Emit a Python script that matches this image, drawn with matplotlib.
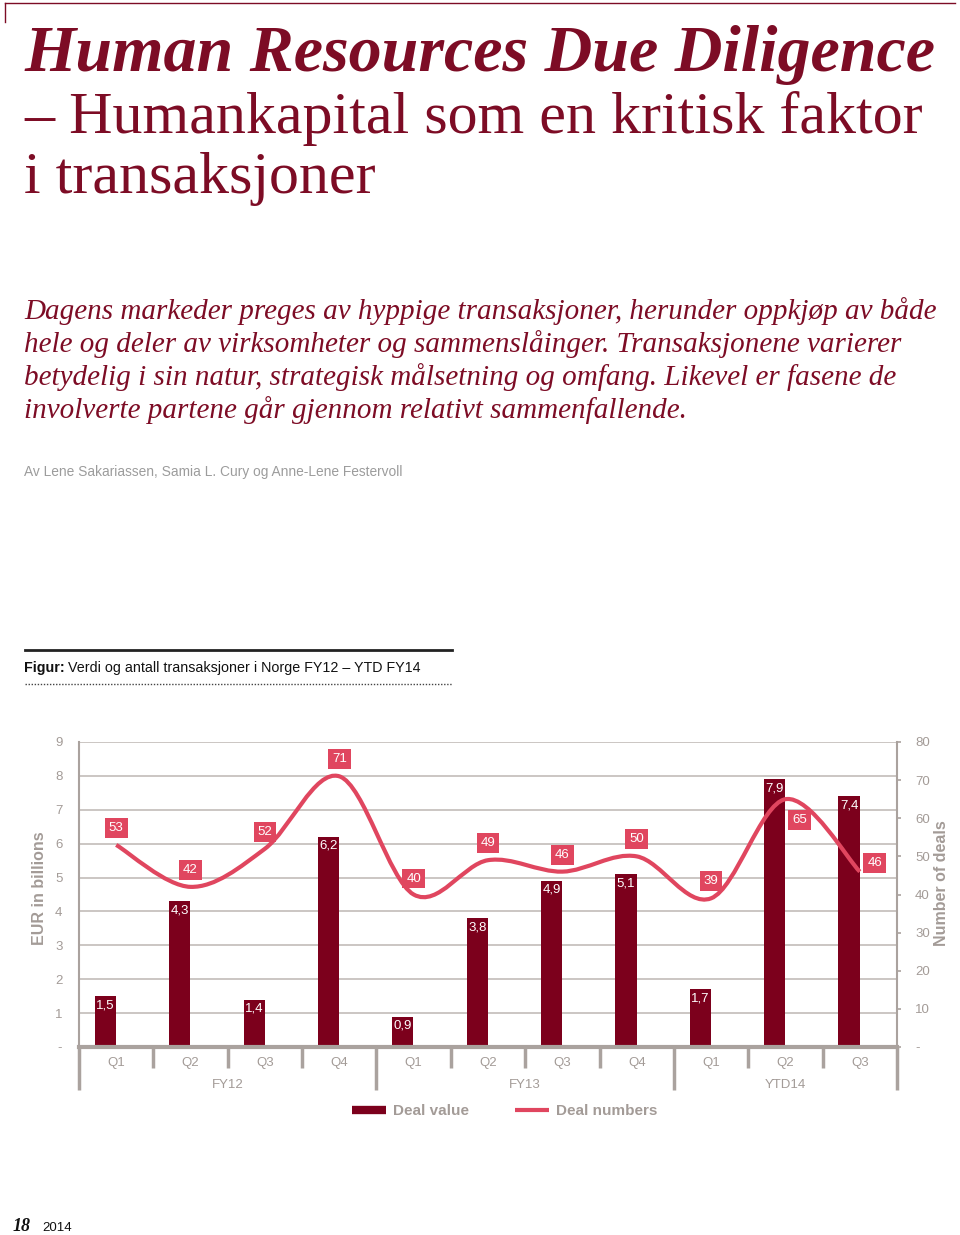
import numpy as np
import matplotlib
matplotlib.use("Agg")
import matplotlib.pyplot as plt
from matplotlib.path import Path
from matplotlib.patches import PathPatch
from matplotlib.lines import Line2D
from matplotlib import transforms

# data
quarters = ["Q1", "Q2", "Q3", "Q4", "Q1", "Q2", "Q3", "Q4", "Q1", "Q2", "Q3"]
groups = ["FY12", "FY13", "YTD14"]
group_bounds = [0, 4, 8, 11]
deal_value = [1.5, 4.3, 1.4, 6.2, 0.9, 3.8, 4.9, 5.1, 1.7, 7.9, 7.4]
deal_numbers = [53, 42, 52, 71, 40, 49, 46, 50, 39, 65, 46]
left_ticks = ["-", "1", "2", "3", "4", "5", "6", "7", "8", "9"]
right_ticks = ["-", "10", "20", "30", "40", "50", "60", "70", "80"]

# label offsets for the deal number boxes (pixels)
num_offsets = [(0, 17), (0, 17), (0, 17), (0, 17), (0, 16), (0, 17),
               (0, 17), (0, 17), (0, 17), (14, -21), (15, 9)]

DARK = "#7c001c"
PINK = "#e0465f"
TITLE = "#7d0c25"
GRAY = "#a39b97"
GRID = "#cbc6c3"
AXG = "#aaa29e"

W, H = 960, 1235
fig = plt.figure(figsize=(W / 100, H / 100), dpi=100)

def fx(x):
    return x / W

def fy(y):
    return 1 - y / H

# page frame
fig.add_artist(Line2D([fx(5), fx(955)], [fy(3), fy(3)], color=TITLE, lw=1))
fig.add_artist(Line2D([fx(5), fx(5)], [fy(3), fy(22)], color=TITLE, lw=1))

# heading
fig.text(fx(24), fy(71), "Human Resources Due Diligence", family="Liberation Serif",
         weight="bold", style="italic", size=47.5, color=TITLE, va="baseline")
fig.text(fx(24), fy(133), "– Humankapital som en kritisk faktor", family="Liberation Serif",
         size=43.2, color=TITLE, va="baseline")
fig.text(fx(24), fy(193), "i transaksjoner", family="Liberation Serif",
         size=43.2, color=TITLE, va="baseline")

intro = ["Dagens markeder preges av hyppige transaksjoner, herunder oppkjøp av både",
         "hele og deler av virksomheter og sammenslåinger. Transaksjonene varierer",
         "betydelig i sin natur, strategisk målsetning og omfang. Likevel er fasene de",
         "involverte partene går gjennom relativt sammenfallende."]
for i, line in enumerate(intro):
    fig.text(fx(24), fy(319 + 33 * i), line, family="Liberation Serif", style="italic",
             size=21, color=TITLE, va="baseline")

fig.text(fx(24), fy(476), "Av Lene Sakariassen, Samia L. Cury og Anne-Lene Festervoll",
         family="Liberation Sans", size=9.95, color="#9c9c9c", va="baseline")

# figure caption
fig.add_artist(Line2D([fx(25), fx(452)], [fy(650), fy(650)], color="#222222", lw=2))
fig.add_artist(Line2D([fx(25), fx(452)], [fy(684), fy(684)], color="#444444", lw=1,
                      linestyle=(0, (1, 1.2))))
fig.text(fx(24), fy(672), "Figur:", family="Liberation Sans", weight="bold",
         size=10.3, color="#111111", va="baseline")
fig.text(fx(68), fy(672), "Verdi og antall transaksjoner i Norge FY12 – YTD FY14",
         family="Liberation Sans", size=10.3, color="#111111", va="baseline")

# chart
ax = fig.add_axes([fx(79), fy(1047), fx(897) - fx(79), (1047 - 742) / H])
ax2 = ax.twinx()
n = len(quarters)
xc = np.arange(n) + 0.5

ax.set_xlim(0, n)
ax.set_ylim(0, 9)
ax2.set_ylim(0, 80)
for a in (ax, ax2):
    for s in a.spines.values():
        s.set_visible(False)
ax.set_xticks([])

for v in range(1, 10):
    ax.axhline(v, color=GRID, lw=1.4, zorder=0)

ax.bar(xc - 0.145, deal_value, width=0.285, color=DARK, zorder=2)
for x, v in zip(xc, deal_value):
    ax.annotate(f"{v:.1f}".replace(".", ","), (x - 0.145, v), xytext=(0, -3),
                textcoords="offset pixels", ha="center", va="top", color="white",
                size=9.5, family="Liberation Sans", zorder=3)

# smooth line (cubic bezier through the points)
pts = np.column_stack([xc, deal_numbers]).astype(float)
verts = [tuple(pts[0])]
codes = [Path.MOVETO]
for i in range(n - 1):
    p0 = pts[max(i - 1, 0)]
    p1 = pts[i]
    p2 = pts[i + 1]
    p3 = pts[min(i + 2, n - 1)]
    c1 = p1 + (p2 - p0) / 6
    c2 = p2 - (p3 - p1) / 6
    verts += [tuple(c1), tuple(c2), tuple(p2)]
    codes += [Path.CURVE4] * 3
ax2.add_patch(PathPatch(Path(verts, codes), facecolor="none", edgecolor=PINK,
                        lw=3, zorder=4, capstyle="butt"))
for x, v, off in zip(xc, deal_numbers, num_offsets):
    ax2.annotate(str(v), (x, v), xytext=off, textcoords="offset pixels",
                 ha="center", va="center", color="white", size=9.5,
                 family="Liberation Sans", zorder=5,
                 bbox=dict(boxstyle="square,pad=0.3", fc=PINK, ec="none"))

ax.set_yticks(range(10))
ax.set_yticklabels(left_ticks)
ax2.set_yticks(range(0, 81, 10))
ax2.set_yticklabels(right_ticks)
ax.tick_params(axis="y", length=0, pad=12, labelsize=9.5, labelcolor=GRAY)
ax2.tick_params(axis="y", length=3, width=1.2, color=AXG, pad=10, labelsize=9.5,
                labelcolor=GRAY)
for lab in ax.get_yticklabels() + ax2.get_yticklabels():
    lab.set_family("Liberation Sans")

# left and right axis lines
ax.plot([0, 0], [0, 9], color=AXG, lw=1.5, clip_on=False, zorder=1)
ax.plot([n, n], [0, 9], color=AXG, lw=1.5, clip_on=False, zorder=1)

# category axis
tr = transforms.blended_transform_factory(ax.transData, ax.transAxes)
ppx = 1 / 305
ax.plot([0, n], [0, 0], color=AXG, lw=3, transform=tr, clip_on=False, zorder=3)
for b in range(n + 1):
    depth = 43 if b in group_bounds else 21
    ax.plot([b, b], [0, -depth * ppx], color=AXG, lw=2.5, transform=tr,
            clip_on=False, solid_capstyle="butt")
for x, q in zip(xc, quarters):
    ax.text(x, -16 * ppx, q, transform=tr, ha="center", va="center", size=9.5,
            color=GRAY, family="Liberation Sans")
for g, a, b in zip(groups, group_bounds[:-1], group_bounds[1:]):
    ax.text((a + b) / 2, -38 * ppx, g, transform=tr, ha="center", va="center",
            size=9.5, color=GRAY, family="Liberation Sans")

fig.text(fx(40), fy(888), "EUR in billions", rotation=90, ha="center", va="center",
         size=11.5, weight="bold", color=GRAY, family="Liberation Sans")
fig.text(fx(942), fy(883), "Number of deals", rotation=90, ha="center", va="center",
         size=11.5, weight="bold", color=GRAY, family="Liberation Sans")

# legend
handles = [Line2D([], [], color=DARK, lw=6, solid_capstyle="butt"),
           Line2D([], [], color=PINK, lw=3, solid_capstyle="butt")]
leg = fig.legend(handles, ["Deal value", "Deal numbers"], loc="center",
                 bbox_to_anchor=(fx(505), fy(1111)), ncol=2, frameon=False,
                 handlelength=2.2, handletextpad=0.5, columnspacing=3,
                 prop={"family": "Liberation Sans", "weight": "bold", "size": 11})
for txt in leg.get_texts():
    txt.set_color(GRAY)

# footer
fig.text(fx(13), fy(1231), "18", family="Liberation Serif", weight="bold", style="italic",
         size=13, color="#111111", va="baseline")
fig.text(fx(42), fy(1231), "2014", family="Liberation Sans", size=9.5, color="#111111",
         va="baseline")

fig.savefig("out.png", dpi=100)
